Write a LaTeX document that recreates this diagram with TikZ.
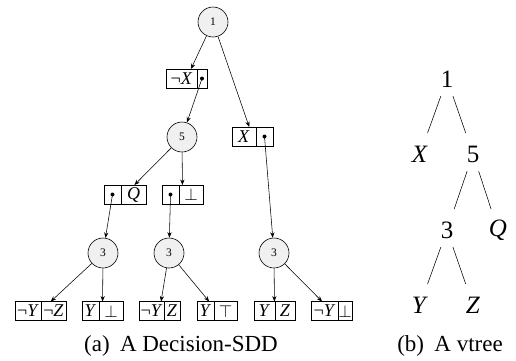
\documentclass[tikz,border=0pt]{standalone}
\usepackage{fontspec}
\setmainfont{Liberation Serif}
\usetikzlibrary{arrows.meta}
\tikzset{
  sddcircle/.style={circle, draw=black, line width=0.6pt, fill=black!6, minimum size=30pt, inner sep=0pt, font=\fontsize{11.5}{13}\selectfont},
  sddbox/.style={rectangle, draw=black, line width=0.6pt, minimum height=19pt, inner sep=0pt, outer sep=0pt},
  boxline/.style={line width=0.6pt},
  cell/.style={inner sep=0pt, font=\fontsize{18}{20}\selectfont},
  dotn/.style={circle, fill=black, inner sep=0pt, minimum size=4pt},
  arr/.style={-{Stealth[length=5.5pt,width=4.2pt]}, line width=0.55pt},
  vnode/.style={circle, inner sep=0pt, minimum size=36pt, font=\fontsize{25}{28}\selectfont},
  vline/.style={line width=0.55pt, shorten >=4pt},
  capt/.style={font=\fontsize{23}{26}\selectfont, inner sep=0pt}
}
% #1 name, #2 left, #3 right, #4 divider, #5 centre y,
% #6 left style, #7 left text, #8 right style, #9 right text
\newcommand\sddbox[9]{%
  \pgfmathsetmacro\bw{#3-#2}%
  \pgfmathsetmacro\bcx{(#2+#3)/2}%
  \pgfmathsetmacro\lcx{(#2+#4)/2}%
  \pgfmathsetmacro\rcx{(#4+#3)/2}%
  \node[sddbox, minimum width=\bw pt] (#1) at (\bcx,#5) {};
  \draw[boxline] (#4,#5-9.5) -- (#4,#5+9.5);
  \node[#6] (#1-l) at (\lcx,#5) {#7};
  \node[#8] (#1-r) at (\rcx,#5) {#9};
}
\begin{document}
\begin{tikzpicture}[x=1pt,y=-1pt]
\useasboundingbox (0,0) rectangle (516,360);
% circles
\node[sddcircle] (c1) at (213,22) {1};
\node[sddcircle] (c5) at (182,137) {5};
\node[sddcircle] (c3a) at (103,253) {3};
\node[sddcircle] (c3b) at (169,253) {3};
\node[sddcircle] (c3c) at (274,253) {3};
% boxes
\sddbox{b1}{166}{207}{197}{78.5}{cell}{¬\textit{X}}{dotn}{}
\sddbox{b2}{232}{273}{256}{136.5}{cell}{\textit{X}}{dotn}{}
\sddbox{b3}{104}{146}{121}{194.5}{dotn}{}{cell}{\textit{Q}}
\sddbox{b4}{162}{203}{179}{194.5}{dotn}{}{cell}{$\bot$}
\sddbox{b5}{15}{66}{41}{311}{cell}{¬\textit{Y}}{cell}{¬\textit{Z}}
\sddbox{b6}{82}{123}{99}{311}{cell}{\textit{Y}}{cell}{$\bot$}
\sddbox{b7}{139}{180}{164}{311}{cell}{¬\textit{Y}}{cell}{\textit{Z}}
\sddbox{b8}{197}{237}{214}{311}{cell}{\textit{Y}}{cell}{$\top$}
\sddbox{b9}{254}{295}{275}{311}{cell}{\textit{Y}}{cell}{\textit{Z}}
\sddbox{b10}{311}{352}{338}{311}{cell}{¬\textit{Y}}{cell}{$\bot$}
% edges
\draw[arr] (c1) -- (b1);
\draw[arr] (c1) -- (b2);
\draw[arr] (b1-r.center) -- (c5);
\draw[arr] (c5) -- (b3);
\draw[arr] (c5) -- (b4);
\draw[arr] (b2-r.center) -- (c3c);
\draw[arr] (b3-l.center) -- (c3a);
\draw[arr] (b4-l.center) -- (c3b);
\draw[arr] (c3a) -- (b5);
\draw[arr] (c3a) -- (b6);
\draw[arr] (c3b) -- (b7);
\draw[arr] (c3b) -- (b8);
\draw[arr] (c3c) -- (b9);
\draw[arr] (c3c) -- (b10);
% vtree
\node[vnode] (v1) at (447,79) {1};
\node[vnode] (vX) at (420,154) {\textit{X}};
\node[vnode] (v5) at (473,154) {5};
\node[vnode] (v3) at (447,230) {3};
\node[vnode] (vQ) at (498,230) {\textit{Q}};
\node[vnode] (vY) at (420,305) {\textit{Y}};
\node[vnode] (vZ) at (473,305) {\textit{Z}};
\draw[vline] (v1) -- (vX);
\draw[vline] (v1) -- (v5);
\draw[vline] (v5) -- (v3);
\draw[vline] (v5) -- (vQ);
\draw[vline] (v3) -- (vY);
\draw[vline] (v3) -- (vZ);
% captions
\node[capt] (capa) at (181,346) {(a)\hspace{0.45em}A Decision-SDD};
\node[capt] (capb) at (450,346) {(b)\hspace{0.45em}A vtree};
\end{tikzpicture}
\end{document}
